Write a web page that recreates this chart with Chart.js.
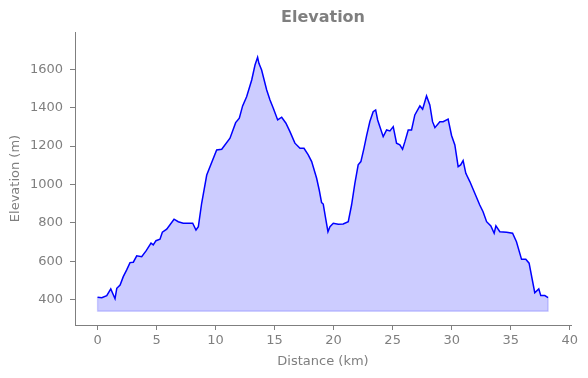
<!DOCTYPE html>
<html>
<head>
<meta charset="utf-8">
<script src="https://cdn.jsdelivr.net/npm/chart.js@4/dist/chart.umd.min.js"></script>
<style>
html,body{margin:0;padding:0;background:#fff;}
#wrap{width:588px;height:378px;}
</style>
</head>
<body>
<div id="wrap"><canvas id="c" width="588" height="378"></canvas></div>
<script>
const distKm = [0,0.36,0.78,1.12,1.48,1.63,1.91,2.18,2.47,2.75,3.03,3.32,3.74,4.11,4.53,4.72,4.95,5.29,5.49,5.86,6.48,6.84,7.26,8.06,8.34,8.54,8.82,9.25,10.09,10.52,11.22,11.70,12.01,12.29,12.63,13.06,13.34,13.56,13.67,13.90,14.33,14.61,14.89,15.26,15.60,15.96,16.30,16.72,17.15,17.49,17.85,18.14,18.56,18.78,18.98,19.12,19.32,19.52,19.69,19.97,20.39,20.81,21.24,21.52,21.80,22.08,22.31,22.57,22.79,23.07,23.35,23.56,23.73,23.92,24.20,24.49,24.77,25.05,25.33,25.61,25.84,26.04,26.32,26.60,26.88,27.31,27.54,27.87,28.15,28.38,28.58,29.00,29.28,29.70,29.99,30.27,30.55,30.76,30.97,31.20,31.54,31.96,32.38,32.66,32.96,33.32,33.60,33.75,34.08,34.65,35.16,35.49,35.92,36.28,36.56,37.04,37.38,37.55,37.89,38.17];
const elevM = [412,410,421,456,405,459,476,520,555,593,595,628,624,654,694,685,707,715,751,767,819,806,798,798,763,780,902,1049,1180,1183,1241,1322,1345,1409,1457,1544,1622,1662,1631,1596,1492,1440,1397,1336,1350,1319,1275,1215,1188,1188,1154,1119,1032,971,905,898,824,754,780,798,793,794,806,893,1006,1102,1119,1188,1253,1328,1379,1388,1336,1301,1249,1284,1279,1301,1215,1206,1183,1223,1284,1284,1362,1409,1392,1461,1414,1327,1296,1327,1327,1340,1255,1206,1093,1102,1124,1058,1015,954,893,858,806,784,746,784,754,751,746,702,610,610,590,436,456,421,421,410];
const baseElev = 340;
const xTicks = [0,5,10,15,20,25,30,35,40];
const yTicks = [400,600,800,1000,1200,1400,1600];
const titleText = 'Elevation';
const xLabel = 'Distance (km)';
const yLabel = 'Elevation (m)';

const grey = '#7f7f7f';
const fam = "'DejaVu Sans', sans-serif";
const font = {family: fam, size: 13};

const profile = distKm.map((d, i) => ({x: d, y: elevM[i]}));
const n = distKm.length;
const edge = [
  {x: distKm[0], y: elevM[0]},
  {x: distKm[0], y: baseElev},
  {x: distKm[n-1], y: baseElev},
  {x: distKm[n-1], y: elevM[n-1]}
];

const titlePlugin = {
  id: 'axesTitle',
  afterDraw(chart) {
    const ctx = chart.ctx, a = chart.chartArea;
    ctx.save();
    ctx.font = 'bold 16px ' + fam;
    ctx.fillStyle = grey;
    ctx.textAlign = 'center';
    ctx.textBaseline = 'middle';
    ctx.fillText(titleText, (a.left + a.right) / 2, 18);
    ctx.restore();
  }
};

new Chart(document.getElementById('c'), {
  type: 'line',
  data: {
    datasets: [
      {
        data: profile,
        borderColor: '#0000ff',
        borderWidth: 1.5,
        pointRadius: 0,
        tension: 0,
        fill: {value: baseElev},
        backgroundColor: 'rgba(0,0,255,0.2)'
      },
      {
        data: edge,
        borderColor: 'rgba(0,0,255,0.2)',
        borderWidth: 1.3,
        pointRadius: 0,
        fill: false
      }
    ]
  },
  options: {
    responsive: false,
    animation: false,
    events: [],
    layout: {padding: {left: 0, right: 17, top: 32, bottom: 0}},
    plugins: {
      legend: {display: false},
      tooltip: {enabled: false},
      title: {display: false}
    },
    scales: {
      x: {
        type: 'linear',
        min: -1.91,
        max: 40.11,
        afterBuildTicks: s => { s.ticks = xTicks.map(v => ({value: v})); },
        afterFit: s => { s.height = 53; },
        grid: {display: true, drawOnChartArea: false, drawTicks: true, tickLength: 5, color: grey},
        border: {display: true, color: grey, width: 1},
        ticks: {color: grey, font: font, padding: 3, maxRotation: 0, autoSkip: false,
                callback: v => String(v)},
        title: {display: true, text: xLabel, color: grey, font: font, padding: {top: 0, bottom: 9}}
      },
      y: {
        type: 'linear',
        min: 268,
        max: 1794,
        afterBuildTicks: s => { s.ticks = yTicks.map(v => ({value: v})); },
        afterFit: s => { s.width = 75; },
        grid: {display: true, drawOnChartArea: false, drawTicks: true, tickLength: 5, color: grey},
        border: {display: true, color: grey, width: 1},
        ticks: {color: grey, font: font, padding: 7, autoSkip: false,
                callback: v => String(v)},
        title: {display: true, text: yLabel, color: grey, font: font, padding: {top: 8, bottom: 0}}
      }
    }
  },
  plugins: [titlePlugin]
});
</script>
</body>
</html>
